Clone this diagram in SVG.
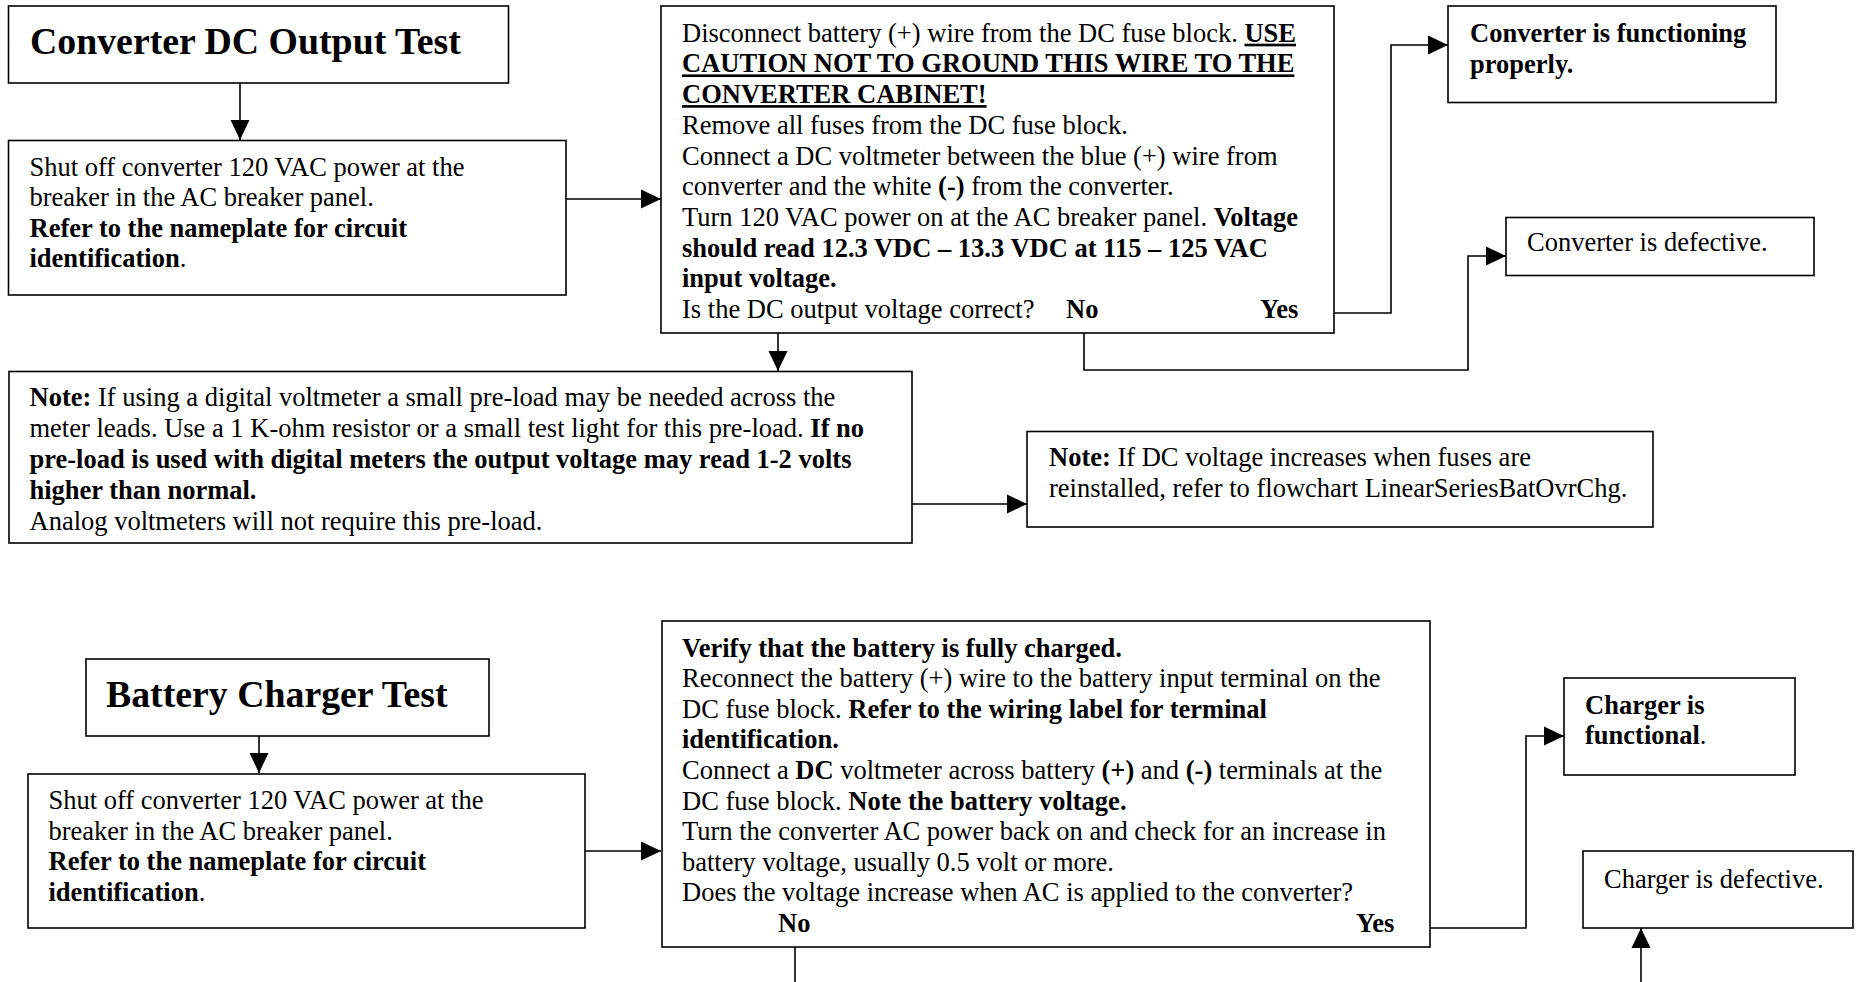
<svg xmlns="http://www.w3.org/2000/svg" width="1863" height="982" viewBox="0 0 1863 982">
<style>
.box{fill:#fff;stroke:#000;stroke-width:1.6}
.t{font-family:"Liberation Serif","Times New Roman",serif;font-size:26.5px;fill:#000}
.b{font-weight:bold}
.u{text-decoration:underline}
.title{font-family:"Liberation Serif","Times New Roman",serif;font-size:37.8px;font-weight:bold;fill:#000}
.c{fill:none;stroke:#000;stroke-width:1.6}
</style>
<defs>
<marker id="ah" markerUnits="userSpaceOnUse" markerWidth="21" markerHeight="20" refX="20" refY="10" orient="auto">
<path d="M0,0.5 L20,10 L0,19.5 z" fill="#000"/>
</marker>
</defs>
<rect width="1863" height="982" fill="#fff"/>

<g id="connectors">
<path class="c" d="M240,83 V140" marker-end="url(#ah)"/>
<path class="c" d="M566,199 H661" marker-end="url(#ah)"/>
<path class="c" d="M778,333 V371" marker-end="url(#ah)"/>
<path class="c" d="M1334,313 H1391 V45 H1448" marker-end="url(#ah)"/>
<path class="c" d="M1084,333 V370 H1468 V256 H1506" marker-end="url(#ah)"/>
<path class="c" d="M909,504 H1027" marker-end="url(#ah)"/>
<path class="c" d="M259,736 V773" marker-end="url(#ah)"/>
<path class="c" d="M585,851 H661" marker-end="url(#ah)"/>
<path class="c" d="M1430,928 H1526 V736 H1564" marker-end="url(#ah)"/>
<path class="c" d="M795,947 V982"/>
<path class="c" d="M1641,982 V928" marker-end="url(#ah)"/>
</g>

<g id="title1">
<rect class="box" x="8.5" y="6" width="500" height="77"/>
<text class="title" x="30" y="53.5">Converter DC Output Test</text>
</g>

<g id="shutoff1">
<rect class="box" x="8.5" y="140.5" width="557.5" height="154.5"/>
<text class="t" x="29.5" y="175.5">Shut off converter 120 VAC power at the</text>
<text class="t" x="29.5" y="206">breaker in the AC breaker panel.</text>
<text class="t" x="29.5" y="236.5"><tspan class="b">Refer to the nameplate for circuit</tspan></text>
<text class="t" x="29.5" y="267"><tspan class="b">identification</tspan>.</text>
</g>

<g id="check1">
<rect class="box" x="661" y="6" width="673" height="327"/>
<text class="t" x="682" y="41.7">Disconnect battery (+) wire from the DC fuse block. <tspan class="b u">USE</tspan></text>
<text class="t" x="682" y="72.4"><tspan class="b u">CAUTION NOT TO GROUND THIS WIRE TO THE</tspan></text>
<text class="t" x="682" y="103.1"><tspan class="b u">CONVERTER CABINET!</tspan></text>
<text class="t" x="682" y="133.8">Remove all fuses from the DC fuse block.</text>
<text class="t" x="682" y="164.5">Connect a DC voltmeter between the blue (+) wire from</text>
<text class="t" x="682" y="195.2">converter and the white <tspan class="b">(-)</tspan> from the converter.</text>
<text class="t" x="682" y="225.9">Turn 120 VAC power on at the AC breaker panel. <tspan class="b">Voltage</tspan></text>
<text class="t" x="682" y="256.6"><tspan class="b">should read 12.3 VDC – 13.3 VDC at 115 – 125 VAC</tspan></text>
<text class="t" x="682" y="287.3"><tspan class="b">input voltage.</tspan></text>
<text class="t" x="682" y="318">Is the DC output voltage correct?</text>
<text class="t b" x="1066" y="318">No</text>
<text class="t b" x="1260" y="318">Yes</text>
</g>

<g id="ok1">
<rect class="box" x="1448" y="6" width="328" height="96.5"/>
<text class="t b" x="1470" y="42">Converter is functioning</text>
<text class="t b" x="1470" y="72.5">properly.</text>
</g>

<g id="bad1">
<rect class="box" x="1506" y="217.5" width="308" height="58"/>
<text class="t" x="1527" y="251">Converter is defective.</text>
</g>

<g id="note1">
<rect class="box" x="9" y="371.5" width="903" height="171.5"/>
<text class="t" x="29.5" y="406"><tspan class="b">Note:</tspan> If using a digital voltmeter a small pre-load may be needed across the</text>
<text class="t" x="29.5" y="437">meter leads. Use a 1 K-ohm resistor or a small test light for this pre-load. <tspan class="b">If no</tspan></text>
<text class="t" x="29.5" y="468"><tspan class="b">pre-load is used with digital meters the output voltage may read 1-2 volts</tspan></text>
<text class="t" x="29.5" y="499"><tspan class="b">higher than normal.</tspan></text>
<text class="t" x="29.5" y="530">Analog voltmeters will not require this pre-load.</text>
</g>

<g id="note2">
<rect class="box" x="1027" y="431.5" width="626" height="95.5"/>
<text class="t" x="1049" y="465.5"><tspan class="b">Note:</tspan> If DC voltage increases when fuses are</text>
<text class="t" x="1049" y="496.5">reinstalled, refer to flowchart LinearSeriesBatOvrChg.</text>
</g>

<g id="title2">
<rect class="box" x="86" y="659" width="403" height="77"/>
<text class="title" x="106" y="706.5">Battery Charger Test</text>
</g>

<g id="shutoff2">
<rect class="box" x="28" y="774" width="557" height="154"/>
<text class="t" x="48.5" y="809">Shut off converter 120 VAC power at the</text>
<text class="t" x="48.5" y="839.5">breaker in the AC breaker panel.</text>
<text class="t" x="48.5" y="870"><tspan class="b">Refer to the nameplate for circuit</tspan></text>
<text class="t" x="48.5" y="900.5"><tspan class="b">identification</tspan>.</text>
</g>

<g id="check2">
<rect class="box" x="662" y="621" width="768" height="326"/>
<text class="t" x="682" y="656.5"><tspan class="b">Verify that the battery is fully charged.</tspan></text>
<text class="t" x="682" y="687.1">Reconnect the battery (+) wire to the battery input terminal on the</text>
<text class="t" x="682" y="717.7">DC fuse block. <tspan class="b">Refer to the wiring label for terminal</tspan></text>
<text class="t" x="682" y="748.3"><tspan class="b">identification.</tspan></text>
<text class="t" x="682" y="778.9">Connect a <tspan class="b">DC</tspan> voltmeter across battery <tspan class="b">(+)</tspan> and <tspan class="b">(-)</tspan> terminals at the</text>
<text class="t" x="682" y="809.5">DC fuse block. <tspan class="b">Note the battery voltage.</tspan></text>
<text class="t" x="682" y="840.1">Turn the converter AC power back on and check for an increase in</text>
<text class="t" x="682" y="870.7">battery voltage, usually 0.5 volt or more.</text>
<text class="t" x="682" y="901.3">Does the voltage increase when AC is applied to the converter?</text>
<text class="t b" x="778" y="931.9">No</text>
<text class="t b" x="1356" y="931.9">Yes</text>
</g>

<g id="ok2">
<rect class="box" x="1564" y="678" width="231" height="97"/>
<text class="t b" x="1585" y="713.5">Charger is</text>
<text class="t" x="1585" y="744"><tspan class="b">functional</tspan>.</text>
</g>

<g id="bad2">
<rect class="box" x="1583" y="851" width="270" height="77"/>
<text class="t" x="1604" y="887.5">Charger is defective.</text>
</g>
</svg>
